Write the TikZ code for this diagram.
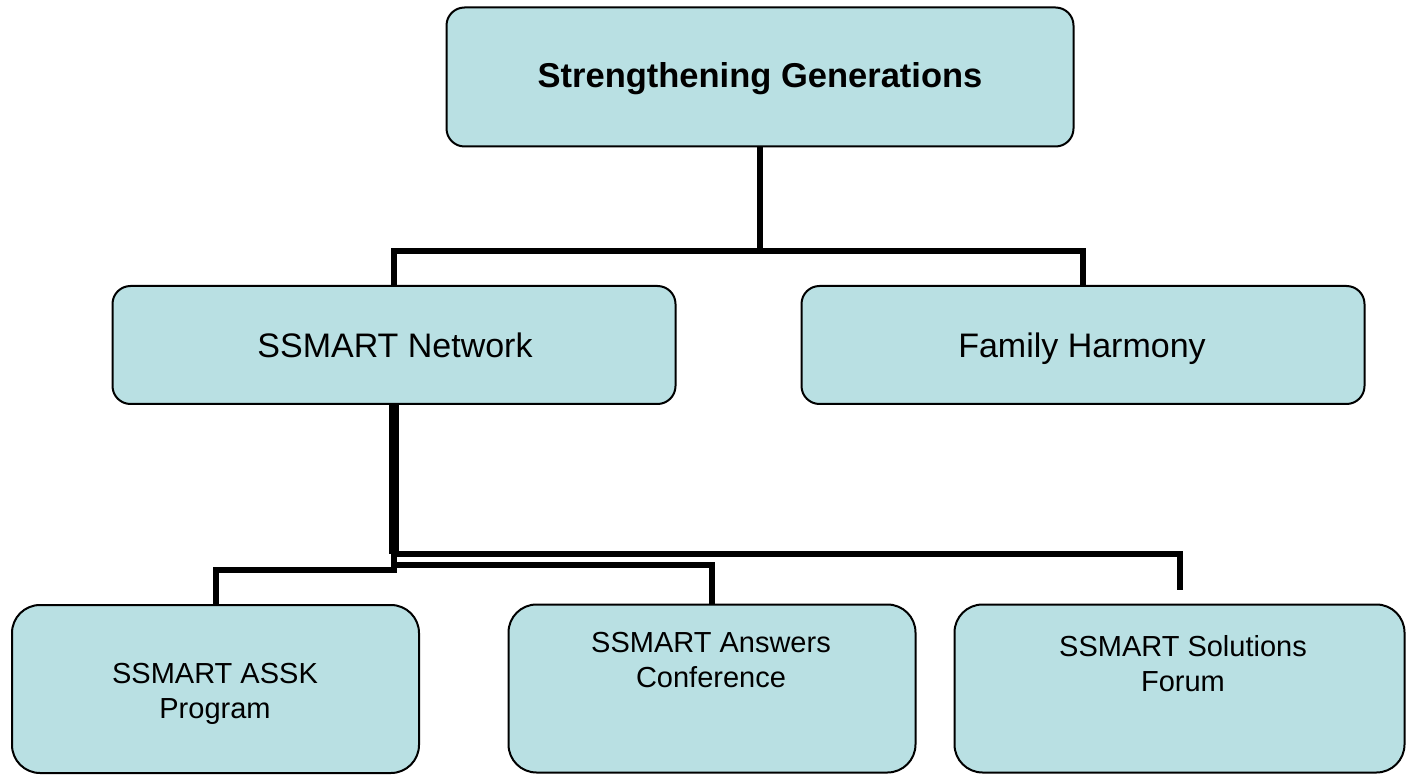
\documentclass[tikz,border=0pt]{standalone}
\usepackage{fontspec}
\setmainfont{Liberation Sans}
\usepackage{tikz}
\definecolor{boxfill}{RGB}{185,224,227}
\tikzset{
  box/.style={draw=black, line width=2pt, fill=boxfill, rounded corners=18pt, inner sep=0pt},
  midbox/.style={box, minimum width=563pt, minimum height=118pt},
  lowbox/.style={box, rounded corners=28pt, minimum width=407pt, minimum height=168pt},
  midtext/.style={anchor=base, font=\fontsize{34}{40}\selectfont},
  lowtext/.style={anchor=north, inner sep=0pt, align=center, font=\fontsize{29}{35}\selectfont},
  conn/.style={line width=6pt}
}

\begin{document}
\begin{tikzpicture}[x=1pt,y=-1pt]
    \useasboundingbox (0,0) rectangle (1406,775);
    % boxes
    \node[box, minimum width=627pt, minimum height=139pt] (top) at (760,77) {};
    \node[midbox] (network) at (394,345) {};
    \node[midbox] (family) at (1083,345) {};
    \node[lowbox] (assk) at (215.5,689) {};
    \node[lowbox] (answers) at (712,688.5) {};
    \node[lowbox, minimum width=450pt] (solutions) at (1179.5,688.5) {};
    % labels
    \node[anchor=base, font=\fontsize{34.5}{40}\selectfont\bfseries] (toptext) at (760,88) {Strengthening Generations};
    \node[midtext] (networktext) at (395,358) {SSMART Network};
    \node[midtext] (familytext) at (1082,358) {Family Harmony};
    \node[lowtext] (assktext) at (215,663) {SSMART ASSK\\Program};
    \node[lowtext] (answerstext) at (711,632) {SSMART Answers\\Conference};
    \node[lowtext] (solutionstext) at (1183,635) {SSMART Solutions\\Forum};
    % connectors
    \coordinate (split) at (760,251);
    \coordinate (bend) at (394,554);
    \coordinate (fork) at (394,565);
    \coordinate (forkl) at (394,570);
    \coordinate (stub) at (1180,590);
    \draw[conn] (top.south) -- (split);
    \draw[conn] (network.north) |- (split) -| (family.north);
    \draw[line width=10pt] (network.south) -- (bend);
    \draw[conn] (bend) -| (stub);
    \draw[conn] (fork) -| (answers.north);
    \draw[conn] (bend) -- (forkl) -| (assk.north);
\end{tikzpicture}
\end{document}
